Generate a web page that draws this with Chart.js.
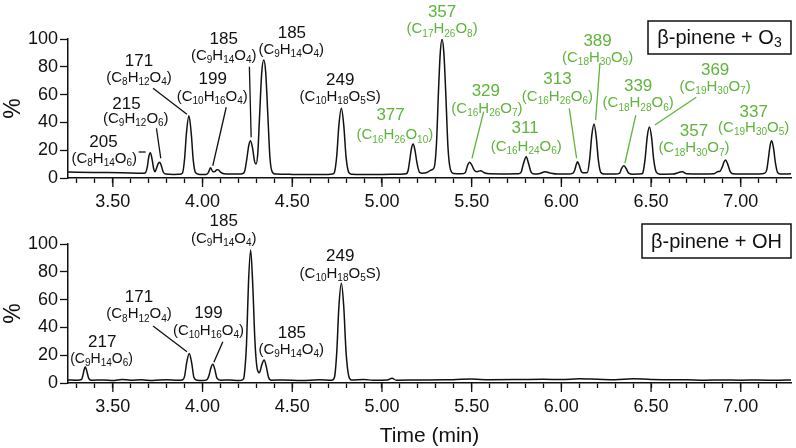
<!DOCTYPE html>
<html>
<head>
<meta charset="utf-8">
<script src="https://cdn.jsdelivr.net/npm/chart.js@4"></script>
<style>
  html, body { margin: 0; padding: 0; background: #fff; }
  #wrap { position: relative; width: 796px; height: 448px; }
  #top { position: absolute; left: 0; top: 0; }
  #bottom { position: absolute; left: 0; top: 200px; }
</style>
</head>
<body>
<div id="wrap">
  <canvas id="top" width="796" height="215"></canvas>
  <canvas id="bottom" width="796" height="248"></canvas>
</div>
<script>
// time axis (min) and y ticks
const timeMin = 3.25;
const timeMax = 7.28;
const yTicks = [0, 20, 40, 60, 80, 100];

// beta-pinene + O3 trace
const o3Time = [
  3.25, 3.40, 3.55, 3.67, 3.680, 3.692, 3.700, 3.709, 3.718, 3.727, 3.735, 3.745, 3.753, 3.761, 3.770, 3.780, 3.795,
  3.84, 3.875, 3.888, 3.900, 3.910, 3.924, 3.937, 3.948, 3.960, 3.975, 3.99, 4.02,
  4.033, 4.044, 4.058, 4.070, 4.080, 4.089, 4.100, 4.12, 4.15, 4.20, 4.225,
  4.235, 4.247, 4.257, 4.267, 4.278, 4.290, 4.298, 4.308, 4.318, 4.330, 4.341, 4.352, 4.364, 4.376, 4.390, 4.41,
  4.50, 4.60, 4.70, 4.725, 4.735, 4.748, 4.760, 4.774, 4.787, 4.800, 4.815, 4.83,
  4.90, 5.00, 5.10, 5.135, 5.145, 5.155, 5.164, 5.174, 5.184, 5.195, 5.210, 5.225, 5.250, 5.270, 5.280,
  5.292, 5.304, 5.315, 5.325, 5.335, 5.345, 5.356, 5.368, 5.382, 5.40, 5.44,
  5.465, 5.477, 5.489, 5.502, 5.515, 5.530, 5.550, 5.570, 5.60, 5.70, 5.76,
  5.775, 5.788, 5.804, 5.818, 5.832, 5.85, 5.88, 5.909, 5.94, 5.98, 6.04, 6.065,
  6.075, 6.084, 6.090, 6.100, 6.110, 6.120,
  6.145, 6.158, 6.170, 6.182, 6.194, 6.206, 6.220, 6.24, 6.30, 6.325,
  6.336, 6.348, 6.360, 6.375, 6.40, 6.45,
  6.455, 6.467, 6.479, 6.491, 6.503, 6.515, 6.530, 6.55, 6.62, 6.674, 6.70, 6.78, 6.85, 6.870, 6.885,
  6.897, 6.905, 6.915, 6.927, 6.940, 6.955, 7.00, 7.10, 7.135,
  7.145, 7.155, 7.163, 7.172, 7.182, 7.193, 7.205, 7.22, 7.28
];
const o3Signal = [
  4.3, 4.0, 3.8, 3.5, 3.6, 8, 15, 18.2, 14, 7, 4.5, 7.5, 10.5, 11.3, 9, 4.5, 2.8,
  2.6, 2.7, 3.5, 14, 32, 44.8, 32, 13, 4, 2.8, 2.5, 2.6,
  4, 7.4, 4.5, 4.8, 6, 5.8, 4.2, 3, 2.8, 2.8, 3.2,
  5, 14, 23, 26.8, 22, 12, 10, 18, 45, 76, 84.9, 76, 45, 14, 4, 2.8,
  2.6, 2.5, 2.6, 2.8, 4, 16, 38, 50.1, 38, 15, 4, 2.7,
  2.5, 2.6, 2.7, 3, 5, 13, 21, 24.5, 20, 11, 4, 3.5, 4, 5.5, 6,
  8, 25, 62, 90, 99.8, 90, 60, 22, 6, 3.2, 3,
  4, 9, 11.3, 9, 5.5, 4.5, 5.3, 3.8, 3.0, 2.9, 3.0,
  4, 10, 15.3, 10, 4, 2.8, 3.2, 4.5, 3.5, 2.8, 2.8, 3.5,
  6, 10, 11.7, 9, 5, 3.8,
  4, 14, 31, 38.8, 30, 13, 4, 2.8, 2.8, 3.5,
  7, 8.9, 7, 3.5, 2.7, 3,
  4, 14, 30, 36.7, 29, 13, 4, 2.7, 2.8, 4.5, 3, 2.8, 3, 4.5, 5,
  8, 11, 12.9, 10, 5, 3, 2.8, 2.9, 3.5,
  6, 15, 23, 26.8, 22, 11, 4, 2.8, 3
];

// beta-pinene + OH trace
const ohTime = [
  3.25, 3.30, 3.325, 3.330, 3.338, 3.346, 3.355, 3.365, 3.38, 3.45, 3.50, 3.55, 3.60, 3.66, 3.72, 3.80, 3.86, 3.89,
  3.900, 3.912, 3.926, 3.940, 3.952, 3.97, 4.00, 4.025,
  4.035, 4.047, 4.057, 4.068, 4.080, 4.10, 4.15, 4.20, 4.225,
  4.232, 4.245, 4.256, 4.268, 4.280, 4.292, 4.305, 4.317, 4.330, 4.343, 4.355, 4.368, 4.385, 4.45, 4.55, 4.65, 4.72,
  4.735, 4.748, 4.760, 4.774, 4.787, 4.800, 4.815, 4.83, 4.90, 4.95, 5.03, 5.056, 5.08,
  5.20, 5.35, 5.50, 5.60, 5.75, 5.90, 6.00, 6.10, 6.20, 6.30, 6.40, 6.50, 6.60, 6.70, 6.80, 6.90, 7.00, 7.10, 7.20, 7.28
];
const ohSignal = [
  2.2, 2.0, 2.5, 4, 8.5, 11.7, 8.5, 3.5, 2, 2.2, 1.8, 2.6, 2, 2.3, 1.8, 2.4, 2, 2.4,
  5, 15, 21.3, 14, 4, 2, 1.8, 2.5,
  5, 11, 13.4, 10, 3.5, 2, 2.2, 1.8, 2.5,
  5, 28, 72, 95.7, 70, 30, 10, 7.4, 13, 16.5, 12, 4, 2, 2.2, 1.8, 2.3, 2,
  4, 22, 55, 71.7, 55, 22, 5, 2.2, 2.5, 2, 2.2, 3.4, 2,
  2.2, 2.3, 2.8, 2.4, 2.5, 2.7, 2.5, 3.0, 2.7, 2.4, 3.1, 2.5, 2.4, 2.3, 2.0, 2.2, 2.0, 2.2, 1.9, 2.2
];

// peak labels: masses and formulas
const o3Masses = ['205', '215', '171', '199', '185', '185', '249', '377', '357', '329', '311', '313', '389', '339', '369', '357', '337'];
const o3Formulas = ['(C8H14O6)', '(C9H12O6)', '(C8H12O4)', '(C10H16O4)', '(C9H14O4)', '(C9H14O4)', '(C10H18O5S)',
  '(C16H26O10)', '(C17H26O8)', '(C16H26O7)', '(C16H24O6)', '(C16H26O6)', '(C18H30O9)', '(C18H28O6)', '(C19H30O7)', '(C18H30O7)', '(C19H30O5)'];
const ohMasses = ['217', '171', '199', '185', '185', '249'];
const ohFormulas = ['(C9H14O6)', '(C8H12O4)', '(C10H16O4)', '(C9H14O4)', '(C9H14O4)', '(C10H18O5S)'];

const BLACK = '#111';
const GREEN = '#5db53a';
const FONT = '"Liberation Sans", Arial, Helvetica, sans-serif';

// label placement in data units: mass at (mx,my), formula at (fx,fy), optional leader line
const o3Place = [
  { mx: 3.448, my: 25.7, fx: 3.452, fy: 13.5, line: [3.644, 18.7, 3.683, 18.7] },
  { mx: 3.576, my: 53.2, fx: 3.628, fy: 42.9, line: [3.743, 35.8, 3.767, 14.2] },
  { mx: 3.646, my: 84.2, fx: 3.646, fy: 72.4, line: [3.724, 64.5, 3.913, 45.8] },
  { mx: 4.057, my: 71.0, fx: 4.054, fy: 58.5, line: [4.132, 50.9, 4.057, 8.8] },
  { mx: 4.118, my: 99.8, fx: 4.118, fy: 88.0, line: [4.261, 80.1, 4.271, 29.3] },
  { mx: 4.498, my: 104.1, fx: 4.494, fy: 92.1 },
  { mx: 4.767, my: 70.0, fx: 4.767, fy: 58.5 },
  { mx: 5.048, my: 45.1, fx: 5.072, fy: 30.7, green: true },
  { mx: 5.335, my: 118.9, fx: 5.335, fy: 107.0, green: true },
  { mx: 5.579, my: 62.1, fx: 5.585, fy: 50.1, line: [5.567, 47.7, 5.502, 14.2], green: true },
  { mx: 5.798, my: 35.8, fx: 5.804, fy: 22.5, green: true },
  { mx: 5.978, my: 71.0, fx: 5.978, fy: 58.5, line: [6.044, 50.1, 6.085, 14.2], green: true },
  { mx: 6.202, my: 98.2, fx: 6.202, fy: 86.5, line: [6.215, 82.5, 6.191, 41.7], green: true },
  { mx: 6.428, my: 66.2, fx: 6.428, fy: 53.7, line: [6.415, 45.3, 6.354, 10.6], green: true },
  { mx: 6.857, my: 77.7, fx: 6.857, fy: 65.3, line: [6.752, 58.1, 6.521, 38.1], green: true },
  { mx: 6.739, my: 33.3, fx: 6.739, fy: 21.4, green: true },
  { mx: 7.072, my: 47.3, fx: 7.072, fy: 35.8, green: true }
];
const ohPlace = [
  { mx: 3.441, my: 29.0, fx: 3.437, fy: 17.1, small: true },
  { mx: 3.646, my: 61.4, fx: 3.646, fy: 49.4, line: [3.724, 41.0, 3.913, 22.5] },
  { mx: 4.033, my: 50.1, fx: 4.033, fy: 37.6, line: [4.113, 29.7, 4.063, 14.9] },
  { mx: 4.118, my: 116.0, fx: 4.118, fy: 103.6 },
  { mx: 4.498, my: 35.8, fx: 4.494, fy: 23.7 },
  { mx: 4.767, my: 91.4, fx: 4.767, fy: 78.4 }
];

// draw text where digits become subscripts
function drawFormula(ctx, text, cx, cy, size) {
  const subSize = Math.round(size * 0.68);
  const parts = text.match(/\d+|[^\d]+/g);
  let total = 0;
  parts.forEach(p => {
    ctx.font = (/\d/.test(p) ? subSize : size) + 'px ' + FONT;
    total += ctx.measureText(p).width;
  });
  let x = cx - total / 2;
  ctx.textAlign = 'left';
  parts.forEach(p => {
    const sub = /\d/.test(p);
    ctx.font = (sub ? subSize : size) + 'px ' + FONT;
    ctx.fillText(p, x, sub ? cy + size * 0.3 : cy);
    x += ctx.measureText(p).width;
  });
}

const labelPlugin = {
  id: 'peakLabels',
  afterDraw(chart, args, opts) {
    const { ctx, scales: { x, y }, chartArea } = chart;
    ctx.save();
    ctx.textBaseline = 'middle';
    opts.place.forEach((p, i) => {
      const col = p.green ? GREEN : BLACK;
      ctx.fillStyle = col;
      ctx.strokeStyle = col;
      ctx.textAlign = 'center';
      ctx.font = '17px ' + FONT;
      ctx.fillText(opts.masses[i], x.getPixelForValue(p.mx), y.getPixelForValue(p.my));
      drawFormula(ctx, opts.formulas[i], x.getPixelForValue(p.fx), y.getPixelForValue(p.fy), p.small ? 14 : 15);
      if (p.line) {
        ctx.lineWidth = 1.3;
        ctx.beginPath();
        ctx.moveTo(x.getPixelForValue(p.line[0]), y.getPixelForValue(p.line[1]));
        ctx.lineTo(x.getPixelForValue(p.line[2]), y.getPixelForValue(p.line[3]));
        ctx.stroke();
      }
    });

    // longer ticks on the labelled times
    ctx.strokeStyle = BLACK;
    ctx.lineWidth = 1.3;
    x.ticks.forEach(t => {
      if (Math.abs(t.value * 2 - Math.round(t.value * 2)) < 1e-6) {
        const px = x.getPixelForValue(t.value);
        ctx.beginPath();
        ctx.moveTo(px, chartArea.bottom);
        ctx.lineTo(px, chartArea.bottom + 9);
        ctx.stroke();
      }
    });

    // boxed condition label
    const b = opts.box;
    ctx.lineWidth = 1.5;
    ctx.strokeRect(b.x, b.y, b.w, b.h);
    ctx.fillStyle = BLACK;
    ctx.font = '20px ' + FONT;
    ctx.textAlign = 'left';
    const base = opts.boxText.replace(/\d+$/, '');
    const sub = opts.boxText.slice(base.length);
    const tw = ctx.measureText(base).width;
    ctx.font = '14px ' + FONT;
    const sw = sub ? ctx.measureText(sub).width : 0;
    let tx = b.x + (b.w - tw - sw) / 2;
    ctx.font = '20px ' + FONT;
    ctx.fillText(base, tx, b.y + b.h / 2 + 1);
    if (sub) {
      ctx.font = '14px ' + FONT;
      ctx.fillText(sub, tx + tw, b.y + b.h / 2 + 6);
    }
    ctx.restore();
  }
};

function makeChart(id, times, signal, place, masses, formulas, box, boxText, withTitle, padTop, axisH) {
  return new Chart(document.getElementById(id), {
    type: 'line',
    data: {
      datasets: [{
        data: times.map((t, i) => ({ x: t, y: signal[i] })),
        borderColor: BLACK,
        borderWidth: 1.5,
        pointRadius: 0,
        cubicInterpolationMode: 'monotone',
        fill: false
      }]
    },
    options: {
      responsive: false,
      animation: false,
      layout: { padding: { top: padTop, right: 5, left: 0, bottom: 0 } },
      plugins: {
        legend: { display: false },
        tooltip: { enabled: false },
        peakLabels: { place, masses, formulas, box, boxText }
      },
      scales: {
        x: {
          type: 'linear',
          min: timeMin,
          max: timeMax,
          afterFit: s => { s.height = axisH; },
          ticks: {
            stepSize: 0.1,
            includeBounds: false,
            autoSkip: false,
            maxRotation: 0,
            padding: 8,
            color: BLACK,
            font: { family: FONT, size: 18 },
            callback: v => (Math.abs(v * 2 - Math.round(v * 2)) < 1e-6 ? v.toFixed(2) : '')
          },
          grid: { drawOnChartArea: false, drawTicks: true, tickLength: 5, tickColor: BLACK, tickWidth: 1.3 },
          border: { display: true, color: BLACK, width: 1.5 },
          title: {
            display: withTitle, text: 'Time (min)', color: BLACK,
            font: { family: FONT, size: 21, lineHeight: 1 }, padding: { top: 0, bottom: 1 }
          }
        },
        y: {
          min: 0,
          max: 100,
          afterFit: s => { s.width = 68; },
          afterBuildTicks: s => { s.ticks = yTicks.map(v => ({ value: v })); },
          ticks: { padding: 2, color: BLACK, font: { family: FONT, size: 18 } },
          grid: { drawOnChartArea: false, drawTicks: true, tickLength: 8, tickColor: BLACK, tickWidth: 1.3 },
          border: { display: true, color: BLACK, width: 1.5 },
          title: { display: true, text: '%', color: BLACK, font: { family: FONT, size: 23, lineHeight: 1.2 }, padding: 0 }
        }
      }
    },
    plugins: [labelPlugin]
  });
}

makeChart('top', o3Time, o3Signal, o3Place, o3Masses, o3Formulas,
  { x: 648, y: 21, w: 143, h: 33 }, 'β-pinene + O3', false, 39, 37);
makeChart('bottom', ohTime, ohSignal, ohPlace, ohMasses, ohFormulas,
  { x: 642, y: 24, w: 149, h: 34 }, 'β-pinene + OH', true, 44, 65);
</script>
</body>
</html>
